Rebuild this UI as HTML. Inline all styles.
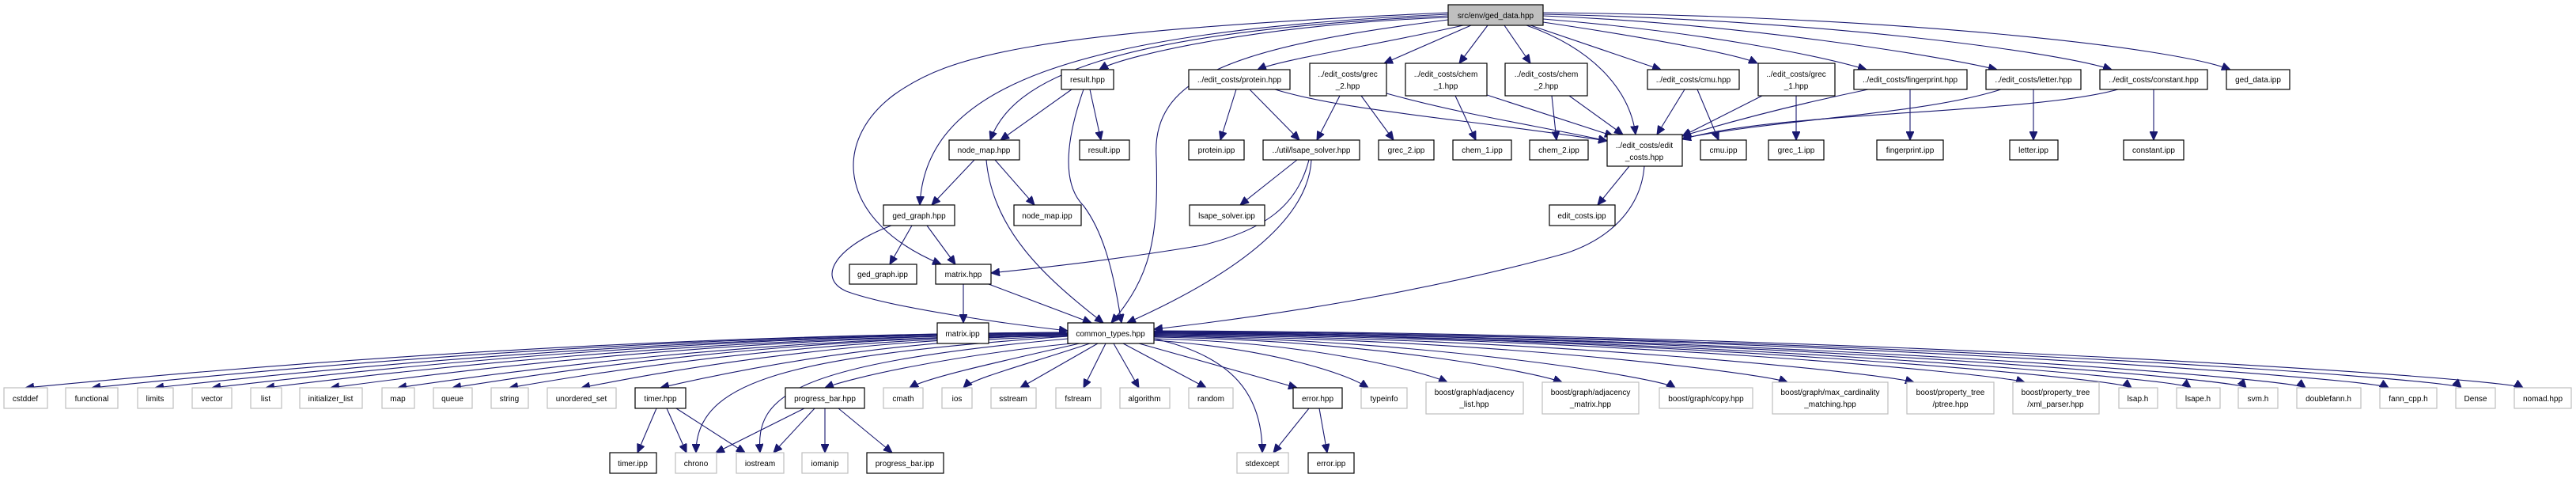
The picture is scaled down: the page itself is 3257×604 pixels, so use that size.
<!DOCTYPE html>
<html><head><meta charset="utf-8"><style>
html,body{margin:0;padding:0;background:#fff}
svg{display:block}
text{font-family:"Liberation Sans",Arial,sans-serif;font-size:10px;text-anchor:middle;fill:#000}
.e{fill:none;stroke:#191970;stroke-width:1.1;marker-end:url(#a)}
.b{fill:#fff;stroke:#000;stroke-width:1.2}
.g{fill:#fff;stroke:#bfbfbf;stroke-width:1.2}
.r{fill:#bfbfbf;stroke:#000;stroke-width:1.2}
</style></head><body>
<svg width="3257" height="604" viewBox="0 0 3257 604" xmlns="http://www.w3.org/2000/svg">
<defs><marker id="a" markerUnits="userSpaceOnUse" markerWidth="12" markerHeight="10" refX="11" refY="5" orient="auto"><path d="M0,0 L11,5 L0,10 z" fill="#191970" stroke="#191970"/></marker></defs>
<g>
<!-- root edges -->
<path class="e" d="M1831 22 C1600 30,1420 70,1390 88"/>
<path class="e" d="M1850 32 C1750 55,1620 75,1590 88"/>
<path class="e" d="M1860 32 L1750 80"/>
<path class="e" d="M1881 32 L1845 80"/>
<path class="e" d="M1902 32 L1935 80"/>
<path class="e" d="M1930 32 C2010 60,2060 110,2068 170"/>
<path class="e" d="M1935 32 L2100 88"/>
<path class="e" d="M1951 28 C2100 50,2200 70,2222 80"/>
<path class="e" d="M1951 24 C2150 40,2300 70,2360 88"/>
<path class="e" d="M1951 20 C2200 30,2450 70,2525 88"/>
<path class="e" d="M1951 18 C2300 25,2600 65,2670 88"/>
<path class="e" d="M1951 16 C2400 20,2750 60,2820 88"/>
<path class="e" d="M1831 20 C1400 40,1280 100,1252 177"/>
<path class="e" d="M1831 18 C1350 40,1170 110,1163 259"/>
<path class="e" d="M1831 16 C1300 40,1200 70,1130 120 C1050 180,1060 280,1190 334"/>
<path class="e" d="M1831 25 C1550 60,1455 100,1462 200 C1465 300,1455 350,1405 408"/>
<!-- result -->
<path class="e" d="M1355 113 L1265 177"/>
<path class="e" d="M1378 113 L1392 177"/>
<path class="e" d="M1370 113 C1350 170,1340 230,1370 260 C1400 300,1410 360,1418 408"/>
<!-- node_map -->
<path class="e" d="M1232 202 L1178 259"/>
<path class="e" d="M1258 202 L1308 259"/>
<path class="e" d="M1247 202 C1255 290,1320 350,1395 408"/>
<!-- ged_graph -->
<path class="e" d="M1153 285 L1125 334"/>
<path class="e" d="M1172 285 L1208 334"/>
<path class="e" d="M1127 285 C1060 310,1030 350,1070 368 C1130 390,1280 410,1350 418"/>
<!-- matrix -->
<path class="e" d="M1218 359 L1218 408"/>
<path class="e" d="M1250 359 L1380 408"/>
<!-- lsape -->
<path class="e" d="M1640 202 L1568 259"/>
<path class="e" d="M1655 202 C1640 260,1600 290,1520 310 C1400 330,1300 340,1253 345"/>
<path class="e" d="M1658 202 C1655 260,1600 330,1425 408"/>
<!-- protein -->
<path class="e" d="M1563 113 L1543 177"/>
<path class="e" d="M1580 113 L1643 177"/>
<path class="e" d="M1612 113 C1700 140,1850 150,2032 178"/>
<!-- grec_2 -->
<path class="e" d="M1694 121 L1665 177"/>
<path class="e" d="M1721 121 L1762 177"/>
<path class="e" d="M1753 118 C1850 145,1950 160,2032 178"/>
<!-- chem -->
<path class="e" d="M1840 121 L1866 177"/>
<path class="e" d="M1880 120 L2040 172"/>
<path class="e" d="M1962 121 L1968 177"/>
<path class="e" d="M1984 121 L2052 170"/>
<!-- cmu -->
<path class="e" d="M2130 113 L2095 170"/>
<path class="e" d="M2146 113 L2173 177"/>
<!-- grec_1 etc -->
<path class="e" d="M2228 121 L2127 172"/>
<path class="e" d="M2271 121 L2271 177"/>
<path class="e" d="M2362 113 C2280 130,2200 150,2127 172"/>
<path class="e" d="M2415 113 L2415 177"/>
<path class="e" d="M2530 113 C2430 145,2250 150,2127 175"/>
<path class="e" d="M2571 113 L2571 177"/>
<path class="e" d="M2678 113 C2560 145,2250 140,2127 176"/>
<path class="e" d="M2723 113 L2723 177"/>
<!-- edit_costs -->
<path class="e" d="M2060 210 L2020 259"/>
<path class="e" d="M2079 210 C2075 260,2040 300,1980 320 C1800 370,1600 400,1459 416"/>
<!-- common_types left -->
<path class="e" d="M1350 420 C691 424,164 478,32 490"/>
<path class="e" d="M1350 420 C733 424,239 478,116 490"/>
<path class="e" d="M1350 421 C773 424,311 478,196 490"/>
<path class="e" d="M1350 421 C809 424,376 478,268 490"/>
<path class="e" d="M1350 422 C843 425,437 478,336 490"/>
<path class="e" d="M1350 422 C884 425,511 478,418 490"/>
<path class="e" d="M1350 423 C926 426,588 478,503 490"/>
<path class="e" d="M1350 423 C961 426,650 478,572 490"/>
<path class="e" d="M1350 424 C997 427,715 478,644 490"/>
<path class="e" d="M1350 424 C1042 428,797 478,735 490"/>
<path class="e" d="M1350 425 C1092 430,887 478,835 490"/>
<path class="e" d="M1355 434 C1196 450,1074 478,1043 490"/>
<path class="e" d="M1350 425 C1000 450,880 480,880 572"/>
<path class="e" d="M1350 428 C1000 460,955 500,961 572"/>
<path class="e" d="M1365 434 C1250 460,1170 478,1150 490"/>
<path class="e" d="M1378 434 C1300 460,1230 478,1218 490"/>
<path class="e" d="M1388 434 L1290 490"/>
<path class="e" d="M1398 434 L1370 490"/>
<path class="e" d="M1408 434 L1440 490"/>
<path class="e" d="M1420 434 L1525 490"/>
<path class="e" d="M1440 434 L1640 490"/>
<path class="e" d="M1459 428 C1560 450,1596 500,1596 572"/>
<!-- common_types right -->
<path class="e" d="M1459 430 C1600 440,1700 470,1730 490"/>
<path class="e" d="M1459 428 C1660 432,1800 470,1830 483"/>
<path class="e" d="M1459 426 C1735 430,1940 470,1975 483"/>
<path class="e" d="M1459 425 C1808 428,2100 478,2118 490"/>
<path class="e" d="M1459 424 C1886 427,2230 472,2260 483"/>
<path class="e" d="M1459 423 C1962 426,2380 472,2420 483"/>
<path class="e" d="M1459 422 C2029 425,2520 472,2560 483"/>
<path class="e" d="M1459 421 C2081 424,2680 478,2695 490"/>
<path class="e" d="M1459 421 C2119 424,2755 478,2770 490"/>
<path class="e" d="M1459 420 C2157 423,2830 478,2840 490"/>
<path class="e" d="M1459 420 C2201 423,2900 478,2915 490"/>
<path class="e" d="M1459 419 C2252 422,3000 478,3020 490"/>
<path class="e" d="M1459 419 C2295 422,3100 478,3112 490"/>
<path class="e" d="M1459 418 C2337 421,3170 478,3190 490"/>
<!-- timer / progress / error -->
<path class="e" d="M830 516 L806 572"/>
<path class="e" d="M843 516 L868 572"/>
<path class="e" d="M855 516 L942 572"/>
<path class="e" d="M1017 516 L905 572"/>
<path class="e" d="M1030 516 L978 572"/>
<path class="e" d="M1043 516 L1043 572"/>
<path class="e" d="M1060 516 L1128 572"/>
<path class="e" d="M1655 516 L1610 572"/>
<path class="e" d="M1668 516 L1678 572"/>
</g>
<g>
<rect class="r" x="1831" y="6" width="120" height="26"/><text x="1891" y="23">src/env/ged_data.hpp</text>
<rect class="b" x="1342" y="88" width="66" height="25"/><text x="1375" y="104">result.hpp</text>
<rect class="b" x="1503" y="88" width="128" height="25"/><text x="1567" y="104">../edit_costs/protein.hpp</text>
<rect class="b" x="1656" y="80" width="97" height="41"/><text x="1704" y="97">../edit_costs/grec</text><text x="1704" y="112">_2.hpp</text>
<rect class="b" x="1777" y="80" width="103" height="41"/><text x="1828" y="97">../edit_costs/chem</text><text x="1828" y="112">_1.hpp</text>
<rect class="b" x="1903" y="80" width="104" height="41"/><text x="1955" y="97">../edit_costs/chem</text><text x="1955" y="112">_2.hpp</text>
<rect class="b" x="2083" y="88" width="116" height="25"/><text x="2141" y="104">../edit_costs/cmu.hpp</text>
<rect class="b" x="2223" y="80" width="97" height="41"/><text x="2271" y="97">../edit_costs/grec</text><text x="2271" y="112">_1.hpp</text>
<rect class="b" x="2344" y="88" width="143" height="25"/><text x="2415" y="104">../edit_costs/fingerprint.hpp</text>
<rect class="b" x="2511" y="88" width="120" height="25"/><text x="2571" y="104">../edit_costs/letter.hpp</text>
<rect class="b" x="2655" y="88" width="136" height="25"/><text x="2723" y="104">../edit_costs/constant.hpp</text>
<rect class="b" x="2815" y="88" width="80" height="25"/><text x="2855" y="104">ged_data.ipp</text>
<rect class="b" x="1200" y="177" width="89" height="25"/><text x="1244" y="193">node_map.hpp</text>
<rect class="b" x="1365" y="177" width="63" height="25"/><text x="1396" y="193">result.ipp</text>
<rect class="b" x="1503" y="177" width="70" height="25"/><text x="1538" y="193">protein.ipp</text>
<rect class="b" x="1597" y="177" width="122" height="25"/><text x="1658" y="193">../util/lsape_solver.hpp</text>
<rect class="b" x="1743" y="177" width="70" height="25"/><text x="1778" y="193">grec_2.ipp</text>
<rect class="b" x="1837" y="177" width="74" height="25"/><text x="1874" y="193">chem_1.ipp</text>
<rect class="b" x="1934" y="177" width="74" height="25"/><text x="1971" y="193">chem_2.ipp</text>
<rect class="b" x="2032" y="170" width="95" height="40"/><text x="2079" y="187">../edit_costs/edit</text><text x="2079" y="202">_costs.hpp</text>
<rect class="b" x="2150" y="177" width="58" height="25"/><text x="2179" y="193">cmu.ipp</text>
<rect class="b" x="2236" y="177" width="70" height="25"/><text x="2271" y="193">grec_1.ipp</text>
<rect class="b" x="2373" y="177" width="84" height="25"/><text x="2415" y="193">fingerprint.ipp</text>
<rect class="b" x="2541" y="177" width="61" height="25"/><text x="2571" y="193">letter.ipp</text>
<rect class="b" x="2685" y="177" width="76" height="25"/><text x="2723" y="193">constant.ipp</text>
<rect class="b" x="1117" y="259" width="90" height="26"/><text x="1162" y="276">ged_graph.hpp</text>
<rect class="b" x="1282" y="259" width="85" height="26"/><text x="1324" y="276">node_map.ipp</text>
<rect class="b" x="1504" y="259" width="95" height="26"/><text x="1551" y="276">lsape_solver.ipp</text>
<rect class="b" x="1959" y="259" width="83" height="26"/><text x="2000" y="276">edit_costs.ipp</text>
<rect class="b" x="1074" y="334" width="85" height="25"/><text x="1116" y="350">ged_graph.ipp</text>
<rect class="b" x="1183" y="334" width="70" height="25"/><text x="1218" y="350">matrix.hpp</text>
<rect class="b" x="1185" y="408" width="65" height="26"/><text x="1217" y="425">matrix.ipp</text>
<rect class="b" x="1350" y="408" width="109" height="26"/><text x="1404" y="425">common_types.hpp</text>

<rect class="g" x="5" y="490" width="55" height="26"/><text x="32" y="507">cstddef</text>
<rect class="g" x="83" y="490" width="66" height="26"/><text x="116" y="507">functional</text>
<rect class="g" x="174" y="490" width="45" height="26"/><text x="196" y="507">limits</text>
<rect class="g" x="243" y="490" width="50" height="26"/><text x="268" y="507">vector</text>
<rect class="g" x="317" y="490" width="39" height="26"/><text x="336" y="507">list</text>
<rect class="g" x="379" y="490" width="79" height="26"/><text x="418" y="507">initializer_list</text>
<rect class="g" x="483" y="490" width="41" height="26"/><text x="503" y="507">map</text>
<rect class="g" x="548" y="490" width="49" height="26"/><text x="572" y="507">queue</text>
<rect class="g" x="621" y="490" width="47" height="26"/><text x="644" y="507">string</text>
<rect class="g" x="692" y="490" width="87" height="26"/><text x="735" y="507">unordered_set</text>
<rect class="b" x="803" y="490" width="64" height="26"/><text x="835" y="507">timer.hpp</text>
<rect class="b" x="993" y="490" width="100" height="26"/><text x="1043" y="507">progress_bar.hpp</text>
<rect class="g" x="1117" y="490" width="50" height="26"/><text x="1142" y="507">cmath</text>
<rect class="g" x="1191" y="490" width="38" height="26"/><text x="1210" y="507">ios</text>
<rect class="g" x="1253" y="490" width="57" height="26"/><text x="1281" y="507">sstream</text>
<rect class="g" x="1335" y="490" width="57" height="26"/><text x="1363" y="507">fstream</text>
<rect class="g" x="1416" y="490" width="63" height="26"/><text x="1447" y="507">algorithm</text>
<rect class="g" x="1503" y="490" width="56" height="26"/><text x="1531" y="507">random</text>
<rect class="b" x="1635" y="490" width="62" height="26"/><text x="1666" y="507">error.hpp</text>
<rect class="g" x="1721" y="490" width="58" height="26"/><text x="1750" y="507">typeinfo</text>
<rect class="g" x="1803" y="483" width="123" height="40"/><text x="1864" y="499">boost/graph/adjacency</text><text x="1864" y="514">_list.hpp</text>
<rect class="g" x="1950" y="483" width="122" height="40"/><text x="2011" y="499">boost/graph/adjacency</text><text x="2011" y="514">_matrix.hpp</text>
<rect class="g" x="2098" y="490" width="118" height="26"/><text x="2157" y="507">boost/graph/copy.hpp</text>
<rect class="g" x="2241" y="483" width="146" height="40"/><text x="2314" y="499">boost/graph/max_cardinality</text><text x="2314" y="514">_matching.hpp</text>
<rect class="g" x="2411" y="483" width="110" height="40"/><text x="2466" y="499">boost/property_tree</text><text x="2466" y="514">/ptree.hpp</text>
<rect class="g" x="2545" y="483" width="109" height="40"/><text x="2599" y="499">boost/property_tree</text><text x="2599" y="514">/xml_parser.hpp</text>
<rect class="g" x="2679" y="490" width="49" height="26"/><text x="2703" y="507">lsap.h</text>
<rect class="g" x="2752" y="490" width="55" height="26"/><text x="2779" y="507">lsape.h</text>
<rect class="g" x="2830" y="490" width="50" height="26"/><text x="2855" y="507">svm.h</text>
<rect class="g" x="2904" y="490" width="81" height="26"/><text x="2944" y="507">doublefann.h</text>
<rect class="g" x="3009" y="490" width="72" height="26"/><text x="3045" y="507">fann_cpp.h</text>
<rect class="g" x="3105" y="490" width="50" height="26"/><text x="3130" y="507">Dense</text>
<rect class="g" x="3179" y="490" width="72" height="26"/><text x="3215" y="507">nomad.hpp</text>

<rect class="b" x="771" y="572" width="59" height="26"/><text x="800" y="589">timer.ipp</text>
<rect class="g" x="854" y="572" width="52" height="26"/><text x="880" y="589">chrono</text>
<rect class="g" x="931" y="572" width="60" height="26"/><text x="961" y="589">iostream</text>
<rect class="g" x="1014" y="572" width="58" height="26"/><text x="1043" y="589">iomanip</text>
<rect class="b" x="1096" y="572" width="97" height="26"/><text x="1144" y="589">progress_bar.ipp</text>
<rect class="g" x="1564" y="572" width="65" height="26"/><text x="1596" y="589">stdexcept</text>
<rect class="b" x="1654" y="572" width="58" height="26"/><text x="1683" y="589">error.ipp</text>
</g>
</svg>
</body></html>
